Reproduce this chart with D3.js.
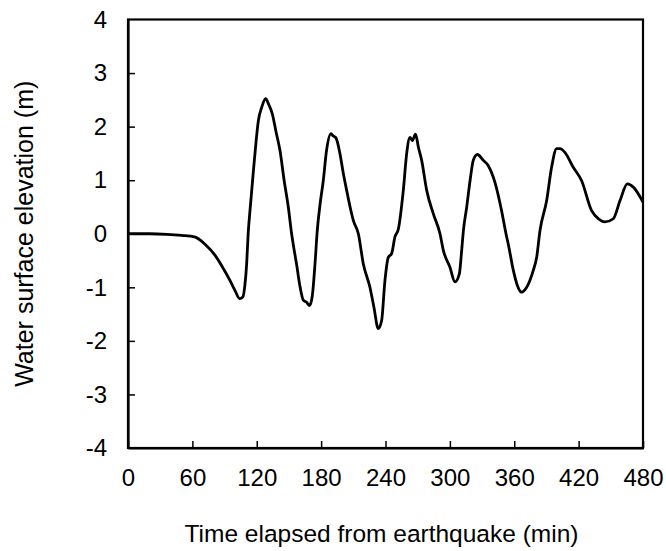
<!DOCTYPE html>
<html>
<head>
<meta charset="utf-8">
<script src="https://cdn.jsdelivr.net/npm/d3@7"></script>
<style>
  html, body { margin: 0; padding: 0; background: #fff; }
  svg { display: block; }
  text { font-family: "Liberation Sans", Arial, sans-serif; fill: #000; }
</style>
</head>
<body>
<svg id="chart" width="666" height="551"></svg>
<script>
// Time elapsed (min)
const timeMin = [0,20,36,50,62,72,81,88,95,100,104,107,109,110.6,112,114,117,119.5,121.5,124.6,128.3,131,134.5,138,141.7,145.5,149.4,152.5,155,157.2,160,163.4,166.5,169,171,172,174.3,176.4,179,182,185,189.2,191,193.8,197.6,200.5,203.8,207,210,214.7,219.3,225.5,229,233.3,236.4,239.5,242.6,245.7,248.8,252,256.6,259.7,262.8,265,268,270.6,273.7,278.4,284.6,290.8,293.9,300,304.8,308.8,311,312.6,315.7,318.8,321.8,325.6,331.2,335.8,342,348.2,352.3,354.4,359.1,362.8,366.9,371.6,377.8,380.9,384,390.2,394.8,399.5,402.6,407.2,415,422.8,432.1,438.4,444.6,452.3,458.6,465.4,471,480];
// Water surface elevation (m)
const elevation = [0,0,-0.01,-0.03,-0.06,-0.2,-0.40,-0.62,-0.87,-1.07,-1.21,-1.18,-0.95,-0.56,0.0,0.5,1.2,1.75,2.11,2.36,2.52,2.42,2.24,1.9,1.55,1.0,0.50,0,-0.32,-0.58,-0.95,-1.24,-1.28,-1.34,-1.25,-1.12,-0.56,0.06,0.55,0.99,1.55,1.87,1.83,1.79,1.49,1.15,0.81,0.5,0.25,0,-0.56,-1.0,-1.35,-1.77,-1.62,-0.87,-0.44,-0.37,-0.06,0.09,0.81,1.49,1.80,1.74,1.86,1.62,1.37,0.81,0.37,0,-0.31,-0.62,-0.90,-0.75,-0.31,0.06,0.50,0.99,1.37,1.48,1.37,1.27,0.96,0.43,0,-0.19,-0.68,-0.96,-1.09,-1.0,-0.68,-0.44,0.06,0.62,1.24,1.59,1.59,1.52,1.24,0.99,0.43,0.28,0.22,0.28,0.62,0.93,0.87,0.59];

const xTicks = [0,60,120,180,240,300,360,420,480];
const yTicks = [-4,-3,-2,-1,0,1,2,3,4];
const xTitle = "Time elapsed from earthquake (min)";
const yTitle = "Water surface elevation (m)";

const svg = d3.select("#chart");
const pLeft = 128, pRight = 643, pTop = 19.5, pBottom = 448;

const x = d3.scaleLinear().domain([0, 480]).range([pLeft, pRight]);
const y = d3.scaleLinear().domain([-4, 4]).range([pBottom, pTop]);
const fmt = d => String(d);

// frame
svg.append("rect")
  .attr("x", pLeft).attr("y", pTop)
  .attr("width", pRight - pLeft).attr("height", pBottom - pTop)
  .attr("fill", "none").attr("stroke", "#000").attr("stroke-width", 2.2);

// x axis
const gx = svg.append("g")
  .attr("transform", `translate(0,${pBottom})`)
  .call(d3.axisBottom(x).tickValues(xTicks).tickFormat(fmt)
        .tickSizeInner(-7).tickSizeOuter(0).tickPadding(21));
gx.select(".domain").attr("stroke", "#000").attr("stroke-width", 2.2);
gx.selectAll(".tick line").attr("stroke", "#000").attr("stroke-width", 1.5);
gx.selectAll("text").style("font-size", "24px").attr("fill", "#000");

// y axis
const gy = svg.append("g")
  .attr("transform", `translate(${pLeft},0)`)
  .call(d3.axisLeft(y).tickValues(yTicks).tickFormat(fmt)
        .tickSizeInner(-7).tickSizeOuter(0).tickPadding(21));
gy.select(".domain").attr("stroke", "#000").attr("stroke-width", 2.2);
gy.selectAll(".tick line").attr("stroke", "#000").attr("stroke-width", 1.5);
gy.selectAll("text").style("font-size", "24px").attr("fill", "#000");
gy.selectAll(".tick").filter(d => d === 4 || d === -4).select("line").remove();

// line
const data = timeMin.map((t, i) => ({t, v: elevation[i]}));
const line = d3.line().x(d => x(d.t)).y(d => y(d.v)).curve(d3.curveMonotoneX);
svg.append("path")
  .datum(data)
  .attr("d", line)
  .attr("fill", "none")
  .attr("stroke", "#000")
  .attr("stroke-width", 2.8)
  .attr("stroke-linejoin", "round");

// titles
svg.append("text")
  .attr("x", (pLeft + pRight) / 2 - 4).attr("y", 542)
  .attr("text-anchor", "middle")
  .style("font-size", "24.5px")
  .text(xTitle);

svg.append("text")
  .attr("transform", `translate(33,${(pTop + pBottom) / 2}) rotate(-90)`)
  .attr("text-anchor", "middle")
  .style("font-size", "25px")
  .text(yTitle);
</script>
</body>
</html>
